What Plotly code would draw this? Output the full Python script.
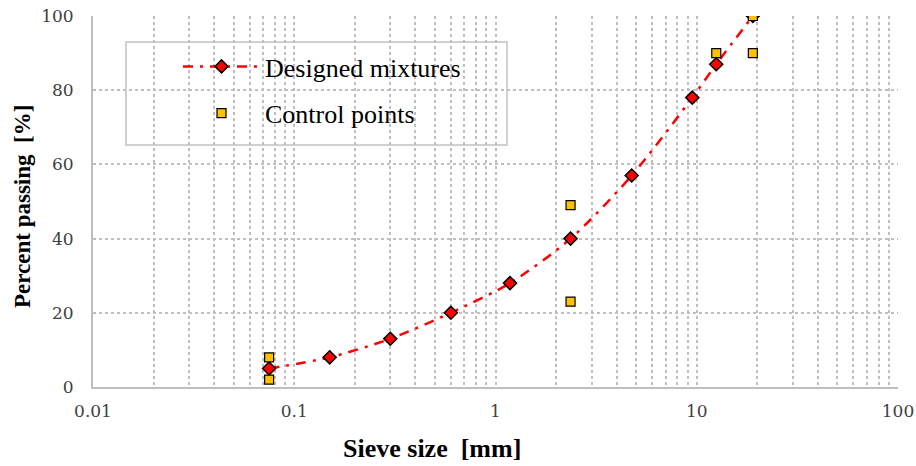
import plotly.graph_objects as go

# Sieve sizes (mm) and percent passing for the designed gradation
sieve_mm = [0.075, 0.15, 0.3, 0.6, 1.18, 2.36, 4.75, 9.5, 12.5, 19]
designed_pct = [5, 8, 13, 20, 28, 40, 57, 78, 87, 100]

# Gradation control points (lower / upper limits)
control_mm = [0.075, 0.075, 2.36, 2.36, 12.5, 19, 19]
control_pct = [2, 8, 23, 49, 90, 90, 100]

x_tickvals = [0.01, 0.1, 1, 10, 100]
x_ticktext = ["0.01", "0.1", "1", "10", "100"]
y_tickvals = [0, 20, 40, 60, 80, 100]

# minor grid positions (2..9 in each decade)
minor_vals = [m * d for d in (0.01, 0.1, 1, 10) for m in range(2, 10)]

SERIF = "Liberation Serif"
TICKFONT = "DejaVu Serif"
GRID = "#bfbfbf"

# plot-area geometry in pixels
W, H = 916, 466
L, R, T, B = 93, 18, 16, 79
PW, PH = W - L - R, H - T - B


def px_x(p):
    return (p - L) / PW


def px_y(p):
    return (H - B - p) / PH


fig = go.Figure()

fig.add_trace(go.Scatter(
    x=sieve_mm, y=designed_pct, mode="lines+markers",
    name="Designed mixtures", legendgroup="a",
    line=dict(color="#ff0000", width=2.5, dash="10px,7px,3px,7px", shape="spline", smoothing=0.8),
    marker=dict(symbol="diamond", size=10, color="#ff0000",
                line=dict(color="#000000", width=1.5)),
))
fig.add_trace(go.Scatter(
    x=control_mm, y=control_pct, mode="markers",
    name="Control points", legendgroup="b",
    marker=dict(symbol="square", size=9, color="#ffc000",
                line=dict(color="#000000", width=1.2)),
))
# invisible trace carrying the minor vertical grid
fig.add_trace(go.Scatter(x=[0.01, 100], y=[0, 0], xaxis="x2", mode="markers",
                         marker=dict(opacity=0), showlegend=False, hoverinfo="skip"))

fig.update_layout(
    width=W, height=H,
    margin=dict(l=L, r=R, t=T, b=B, autoexpand=False),
    paper_bgcolor="white", plot_bgcolor="white",
    font=dict(family=SERIF, color="#000000"),
    xaxis=dict(
        type="log", range=[-2, 2], tickvals=x_tickvals, ticktext=x_ticktext,
        showgrid=True, gridcolor=GRID, griddash="dot", gridwidth=1.5,
        showline=True, linecolor=GRID, linewidth=2,
        ticks="outside", ticklen=0, ticklabelstandoff=8,
        tickfont=dict(family=TICKFONT, size=17, color="#404040"),
        zeroline=False, automargin=False,
    ),
    xaxis2=dict(
        type="log", range=[-2, 2], overlaying="x", tickvals=minor_vals,
        showticklabels=False, showgrid=True, gridcolor=GRID, griddash="dot", gridwidth=1.5,
        showline=False, zeroline=False, automargin=False,
    ),
    yaxis=dict(
        range=[0, 100], tickvals=y_tickvals,
        showgrid=True, gridcolor=GRID, griddash="dot", gridwidth=1.5,
        showline=True, linecolor=GRID, linewidth=2,
        ticks="outside", ticklen=0, ticklabelstandoff=14,
        tickfont=dict(family=TICKFONT, size=17, color="#404040"),
        zeroline=False, automargin=False,
    ),
    legend=dict(
        x=px_x(178), y=px_y(43), xanchor="left", yanchor="top",
        bgcolor="rgba(0,0,0,0)", borderwidth=0,
        font=dict(family=SERIF, size=26, color="#000000"),
        itemwidth=77, traceorder="grouped", tracegroupgap=10,
    ),
    shapes=[dict(
        type="rect", xref="paper", yref="paper",
        x0=px_x(126), x1=px_x(507), y0=px_y(145), y1=px_y(42),
        line=dict(color="#d0d0d0", width=2), fillcolor="white", layer="below",
    )],
    annotations=[
        dict(text="<b>Sieve size  [mm]</b>", xref="paper", yref="paper",
             x=px_x(432), y=px_y(448), xanchor="center", yanchor="middle",
             showarrow=False, font=dict(family=SERIF, size=26, color="#000000")),
        dict(text="<b>Percent passing  [%]</b>", xref="paper", yref="paper",
             x=px_x(22), y=px_y(207), xanchor="center", yanchor="middle", textangle=-90,
             showarrow=False, font=dict(family=SERIF, size=23, color="#000000")),
    ],
)

fig.write_html("out.html")
